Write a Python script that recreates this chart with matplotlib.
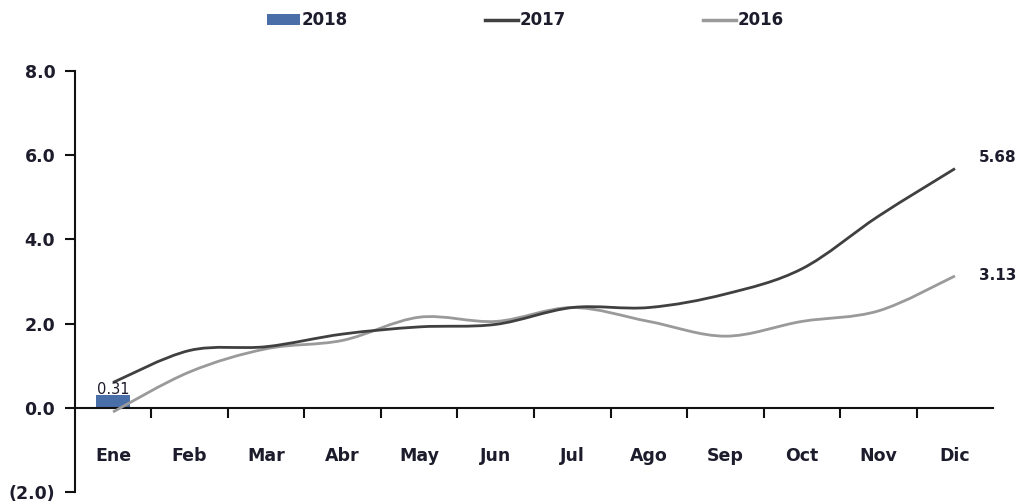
import matplotlib
matplotlib.use('Agg')
import matplotlib.pyplot as plt
import numpy as np
from matplotlib.path import Path
from matplotlib.patches import PathPatch, Patch
from matplotlib.lines import Line2D
from matplotlib.ticker import FuncFormatter

meses = ['Ene', 'Feb', 'Mar', 'Abr', 'May', 'Jun', 'Jul', 'Ago', 'Sep', 'Oct', 'Nov', 'Dic']
v2018 = [0.31]
v2017 = [0.60, 1.36, 1.45, 1.75, 1.92, 1.98, 2.38, 2.38, 2.70, 3.30, 4.55, 5.68]
v2016 = [-0.10, 0.85, 1.40, 1.60, 2.15, 2.05, 2.38, 2.05, 1.70, 2.05, 2.30, 3.13]

C2018 = '#4a6ea8'
C2017 = '#404040'
C2016 = '#9a9a9a'
TXT = '#1c1c2c'


def smooth_path(xs, ys):
    """Curva suavizada tipo Excel (Bezier con tangentes Catmull-Rom)"""
    pts = np.column_stack([xs, ys]).astype(float)
    n = len(pts)
    verts = [pts[0]]
    codes = [Path.MOVETO]
    for i in range(n - 1):
        p0 = pts[max(i - 1, 0)]
        p1 = pts[i]
        p2 = pts[i + 1]
        p3 = pts[min(i + 2, n - 1)]
        c1 = p1 + (p2 - p0) / 6.0
        c2 = p2 - (p3 - p1) / 6.0
        verts += [c1, c2, p2]
        codes += [Path.CURVE4] * 3
    return Path(verts, codes)


fig = plt.figure(figsize=(10.24, 5.03), dpi=100)
ax = fig.add_axes([0.073, 0.022, 0.897, 0.837])

x = np.arange(len(meses))

# Barra 2018
ax.bar(x[:len(v2018)], v2018, width=0.45, color=C2018, zorder=2)
for xi, v in zip(x, v2018):
    ax.text(xi, v - 0.05, f'{v:.2f}', ha='center', va='bottom', fontsize=10.5,
            color=TXT, zorder=4)

# Líneas suavizadas
ax.add_patch(PathPatch(smooth_path(x, v2016), facecolor='none', edgecolor=C2016,
                       lw=2, zorder=3))
ax.add_patch(PathPatch(smooth_path(x, v2017), facecolor='none', edgecolor=C2017,
                       lw=2, zorder=3))

ax.annotate(f'{v2017[-1]:.2f}', xy=(x[-1], v2017[-1]), xytext=(17, 8),
            textcoords='offset points', fontsize=11, fontweight='bold', color=TXT,
            va='center', ha='left')
ax.annotate(f'{v2016[-1]:.2f}', xy=(x[-1], v2016[-1]), xytext=(17, 0),
            textcoords='offset points', fontsize=11, fontweight='bold', color=TXT,
            va='center', ha='left')

# Ejes
ax.set_xlim(-0.5, len(meses) - 0.5)
ax.set_ylim(-2, 8)
ax.set_yticks([-2, 0, 2, 4, 6, 8])
ax.yaxis.set_major_formatter(FuncFormatter(
    lambda v, p: f'({abs(v):.1f})' if v < 0 else f'{v:.1f}'))

ax.spines['top'].set_visible(False)
ax.spines['right'].set_visible(False)
ax.spines['bottom'].set_position(('data', 0))
ax.spines['left'].set_linewidth(1.5)
ax.spines['bottom'].set_linewidth(1.5)
ax.spines['left'].set_color('#111111')
ax.spines['bottom'].set_color('#111111')

ax.set_xticks(x)
ax.set_xticklabels(meses)
ax.set_xticks(np.arange(0.5, len(meses) - 0.5, 1), minor=True)
ax.tick_params(axis='x', which='major', length=0, pad=28, labelsize=12.5,
               labelcolor=TXT)
ax.tick_params(axis='x', which='minor', length=7, width=1.5, direction='out',
               color='#111111')
ax.tick_params(axis='y', length=7, width=1.5, direction='out', color='#111111',
               pad=7, labelsize=12.5, labelcolor=TXT)

for lab in ax.get_xticklabels() + ax.get_yticklabels():
    lab.set_fontweight('bold')

# Leyenda
handles = [Patch(facecolor=C2018, edgecolor='none'),
           Line2D([0], [0], color=C2017, lw=2.5),
           Line2D([0], [0], color=C2016, lw=2.5)]
fig.legend(handles, ['2018', '2017', '2016'], loc='center', ncol=3,
           bbox_to_anchor=(0.513, 0.96), frameon=False, handlelength=2.0,
           handleheight=0.6, handletextpad=0.1, columnspacing=8.2,
           prop={'size': 12, 'weight': 'bold'}, labelcolor=TXT)

fig.savefig('out.png', dpi=100)
plt.close(fig)
